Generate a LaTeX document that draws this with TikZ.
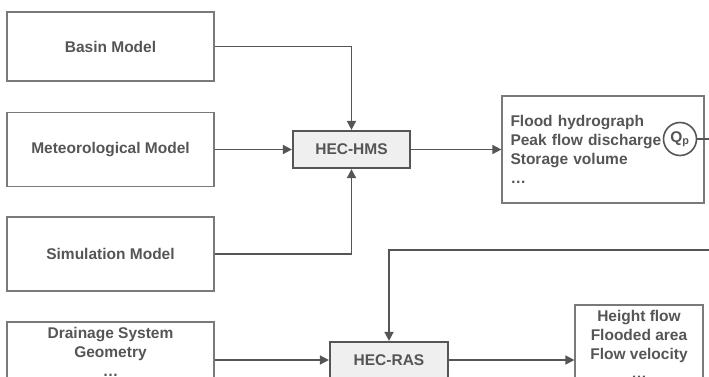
\documentclass[tikz,border=0pt]{standalone}
\usepackage{fontspec}
\setmainfont{Liberation Sans}
\usetikzlibrary{arrows.meta}
\definecolor{linha}{HTML}{7A7A7A}
\definecolor{escuro}{HTML}{555555}
\definecolor{fundo}{HTML}{EFEFEF}
\begin{document}
\begin{tikzpicture}[x=1pt, y=-1pt, thick, >={Triangle[length=9pt,width=9pt]},
    font=\fontsize{15.5}{19}\selectfont\bfseries,
    caixa/.style={draw=linha, line width=1.2pt, text=escuro, rectangle, align=center},
    hec/.style={draw=escuro, fill=fundo, line width=2.2pt, text=escuro, rectangle},
    seta/.style={->, draw=escuro, line width=1.6pt}]
    \clip (0,0) rectangle (709,377);
    % Nós de entrada
    \node[caixa, minimum width=207pt, minimum height=69pt] (basin) at (110.5,46.5) {Basin Model};
    \node[caixa, minimum width=207pt, minimum height=74pt] (meteo) at (110.5,149.5) {Meteorological Model};
    \node[caixa, minimum width=207pt, minimum height=74pt] (sim) at (110.5,254) {Simulation Model};
    \node[caixa, minimum width=207pt, minimum height=60pt] (drain) at (110.5,352) {Drainage System\\Geometry\\\dots};

    % Modelos
    \node[hec, minimum width=117pt, minimum height=37pt] (hms) at (351.5,149.5) {HEC-HMS};
    \node[hec, minimum width=118pt, minimum height=36pt] (ras) at (389,360) {HEC-RAS};

    % Saídas
    \node[caixa, align=left, text width=185pt, minimum width=202pt, minimum height=107pt] (out1) at (603,149.5)
        {Flood hydrograph\\Peak flow discharge\\Storage volume\\\dots};
    \node[draw=escuro, line width=1.6pt, circle, inner sep=0pt, minimum size=33pt, text=escuro] (qp) at (680,139) {Q\textsubscript{p}};
    \node[caixa, minimum width=128pt, minimum height=78pt] (out2) at (639,344)
        {Height flow\\Flooded area\\Flow velocity\\\dots};

    % Setas
    \draw[seta] (basin.east) -| (hms.north);
    \draw[seta] (meteo.east) -- (meteo.east -| hms.west);
    \draw[seta] (sim.east) -| (hms.south);
    \draw[seta] (hms.east) -- (hms.east -| out1.west);
    \draw[seta] (drain.east |- ras.west) -- (ras.west);
    \draw[seta] (ras.east) -- (ras.east -| out2.west);

    % Retorno do Qp
    \coordinate (volta) at (730,250);
    \draw[seta] (qp.east) -| (volta) -- (volta -| ras.north) -- (ras.north);
\end{tikzpicture}
\end{document}
